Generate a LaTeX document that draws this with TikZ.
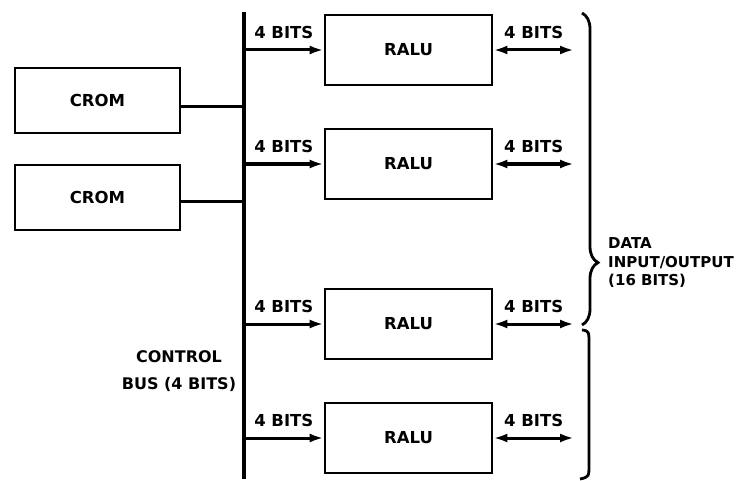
\documentclass[tikz,border=0pt]{standalone}
\usepackage{fontspec}
\setmainfont{DejaVu Sans}
\usetikzlibrary{arrows.meta,decorations.pathreplacing}
\newcommand{\blocktext}{\bfseries\fontsize{16.5}{19}\selectfont}
\newcommand{\sidetext}{\bfseries\fontsize{15}{18.5}\selectfont}
\tikzset{
  unitbox/.style={draw, line width=2.8pt, minimum width=167pt, minimum height=70pt, font=\blocktext},
  busline/.style={line width=3.6pt},
  tapline/.style={line width=3.2pt},
  feed/.style={line width=3pt, -{Latex[length=14pt,width=9pt]}},
  bothway/.style={line width=3pt, {Latex[length=14pt,width=9pt]}-{Latex[length=14pt,width=9pt]}},
  bitlabel/.style={font=\blocktext, inner sep=0pt, above=10pt},
  bracket/.style={line width=2.8pt}
}
\begin{document}
\begin{tikzpicture}[x=1pt,y=-1pt]
\useasboundingbox (0,0) rectangle (743,481);
\coordinate (bustop) at (244,12);
\coordinate (busbot) at (244,479);
\draw[busline] (bustop) -- (busbot);

\node[unitbox, minimum width=165pt, minimum height=65pt] (crom1) at (97.5,100.5) {CROM};
\node[unitbox, minimum width=165pt, minimum height=65pt] (crom2) at (97.5,197.5) {CROM};
\draw[tapline] ([yshift=-6pt]crom1.east) -- ([yshift=-6pt]crom1.east -| bustop);
\draw[tapline] ([yshift=-4pt]crom2.east) -- ([yshift=-4pt]crom2.east -| bustop);

\foreach \n/\y in {1/50,2/164,3/324,4/438} {
  \node[unitbox] (ralu\n) at (408.5,\y) {RALU};
  \coordinate (io\n) at (574,\y);
  \draw[feed] (ralu\n.west -| bustop) -- node[bitlabel] {4 BITS} (ralu\n.west);
  \draw[bothway] (ralu\n.east) -- node[bitlabel] {4 BITS} (io\n);
}

\draw[bracket, decorate, decoration={brace, amplitude=16pt, aspect=0.8}] (582,13) -- (582,325);
\draw[bracket] (582,330) .. controls (589,331) .. (589,345) -- (589,464) .. controls (589,477) .. (580,479);

\node[anchor=west, align=left, font=\sidetext, inner sep=0pt] (dataio) at (608,263) {DATA\\INPUT/OUTPUT\\(16 BITS)};
\node[align=center, font=\bfseries\fontsize{16}{27}\selectfont, inner sep=0pt] (ctrlbus) at (179,371) {CONTROL\\BUS (4 BITS)};
\end{tikzpicture}
\end{document}
